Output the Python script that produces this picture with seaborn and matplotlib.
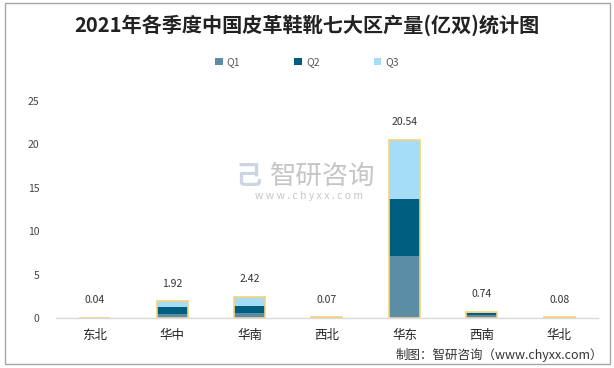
import matplotlib
matplotlib.use("Agg")
import matplotlib.pyplot as plt
import seaborn as sns
import pandas as pd
from matplotlib.patches import Patch, Rectangle

regions = ["东北", "华中", "华南", "西北", "华东", "西南", "华北"]
q1 = [0.015, 0.50, 0.58, 0.025, 7.14, 0.35, 0.03]
q2 = [0.013, 0.80, 0.84, 0.022, 6.56, 0.20, 0.025]
q3 = [0.012, 0.62, 1.00, 0.023, 6.84, 0.19, 0.025]
totals = [0.04, 1.92, 2.42, 0.07, 20.54, 0.74, 0.08]
series = ["Q1", "Q2", "Q3"]
yticks = [0, 5, 10, 15, 20, 25]

colors = {"Q1": "#5B8DA6", "Q2": "#005F80", "Q3": "#A6DDF6"}
edge_col = "#F7D27A"

sns.set_theme(style="white")
plt.rcParams['font.family'] = ['Noto Sans CJK SC', 'DejaVu Sans']

df = pd.DataFrame({"region": regions, "Q1": q1, "Q2": q2, "Q3": q3, "total": totals})
df["c1"] = df["Q1"]
df["c2"] = df["Q1"] + df["Q2"]
df["c3"] = df["Q1"] + df["Q2"] + df["Q3"]

fig = plt.figure(figsize=(6.14, 3.68), dpi=100)
ax = fig.add_axes([0.091, 0.136, 0.883, 0.590])

w = 0.4
sns.barplot(data=df, x="region", y="c3", color=colors["Q3"], width=w, saturation=1, ax=ax, linewidth=0)
sns.barplot(data=df, x="region", y="c2", color=colors["Q2"], width=w, saturation=1, ax=ax, linewidth=0)
sns.barplot(data=df, x="region", y="c1", color=colors["Q1"], width=w, saturation=1, ax=ax, linewidth=0)
sns.barplot(data=df, x="region", y="total", fill=False, width=w, ax=ax,
            edgecolor=edge_col, linewidth=1.2)

for i, t in enumerate(totals):
    ax.annotate(f"{t:.2f}", (i, t), xytext=(0, 9), textcoords="offset points",
                ha="center", va="bottom", fontsize=7.5, color="#333333")

ax.set_ylim(0, 25)
ax.set_yticks(yticks)
ax.set_yticklabels([str(v) for v in yticks], fontsize=7.5, color="#444444")
ax.set_xlim(-0.5, len(regions) - 0.5)
ax.set_xlabel("")
ax.set_ylabel("")
ax.tick_params(axis="x", labelsize=9, colors="#222222", length=0, pad=8)
ax.tick_params(axis="y", length=0, pad=12)
for lab in ax.get_xticklabels():
    lab.set_fontweight("medium")
for s in ["top", "right", "left"]:
    ax.spines[s].set_visible(False)
ax.spines["bottom"].set_color("#D9D9D9")
ax.spines["bottom"].set_linewidth(1)

# Title
fig.text(0.5, 0.932, "2021年各季度中国皮革鞋靴七大区产量(亿双)统计图", ha="center", va="center",
         fontsize=14.5, fontweight="bold", color="#222222")

# Legend
handles = [Patch(facecolor=colors[s], edgecolor="none", label=s) for s in series]
fig.legend(handles=handles, loc="center", bbox_to_anchor=(0.5, 0.832), ncol=3, frameon=False,
           fontsize=7.5, handlelength=0.7, handleheight=0.7, columnspacing=5.2, handletextpad=0.4,
           labelcolor="#595959")

# Watermark
fig.text(0.525, 0.52, "智研咨询", ha="center", va="center", fontsize=19, color="#BFBFBF", alpha=0.9)
fig.text(0.405, 0.52, "己", ha="center", va="center", fontsize=19, color="#C5D3E0", alpha=0.9,
         fontweight="bold")
fig.text(0.503, 0.468, "w w w . c h y x x . c o m", ha="center", va="center", fontsize=7.5,
         color="#BFBFBF", alpha=0.9)

# Source
fig.text(0.982, 0.035, "制图：智研咨询（www.chyxx.com）", ha="right", va="center", fontsize=9, color="#333333")

# Border
fig.patches.append(Rectangle((0.008, 0.012), 0.986, 0.98, transform=fig.transFigure,
                             fill=False, edgecolor="#A6A6A6", linewidth=1))

fig.savefig("out.png", dpi=100)
